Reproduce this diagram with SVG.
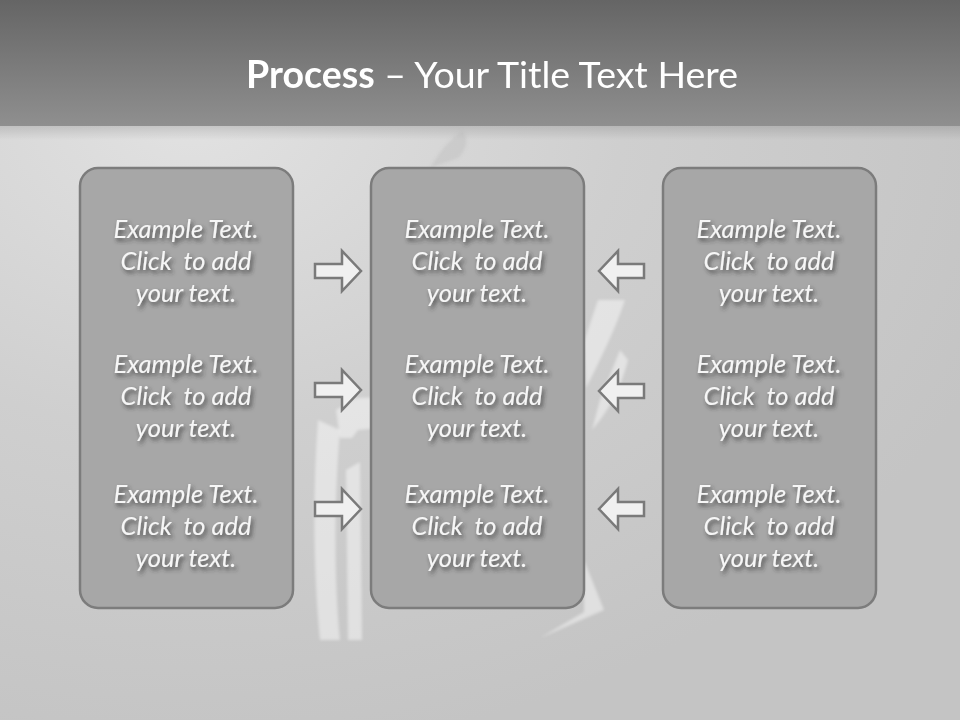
<svg xmlns="http://www.w3.org/2000/svg" width="960" height="720" viewBox="0 0 960 720">
<defs>
<linearGradient id="top" x1="0" y1="0" x2="0" y2="1">
<stop offset="0" stop-color="#656565"/>
<stop offset="1" stop-color="#8f8f8f"/>
</linearGradient>
<radialGradient id="body" cx="0.2" cy="0.15" r="0.9">
<stop offset="0" stop-color="#e2e2e2"/>
<stop offset="0.5" stop-color="#cfcfcf"/>
<stop offset="1" stop-color="#c4c4c4"/>
</radialGradient>
<linearGradient id="band" x1="0" y1="0" x2="0" y2="1">
<stop offset="0" stop-color="#000" stop-opacity="0.12"/>
<stop offset="1" stop-color="#000" stop-opacity="0"/>
</linearGradient>
<filter id="ts" x="-20%" y="-40%" width="140%" height="180%">
<feDropShadow dx="2" dy="3" stdDeviation="2" flood-color="#333" flood-opacity="0.8"/>
</filter>
<filter id="soft"><feGaussianBlur stdDeviation="1.5"/></filter>
</defs>
<style>
.box{fill:#a7a7a7;stroke:#7c7c7c;stroke-width:2.5}
.t{font-family:Lato,"Liberation Sans",sans-serif;font-style:italic;font-size:25.5px;fill:#f6f6f6;text-anchor:middle;white-space:pre}
.arr{fill:#f0f0f0;stroke:#7a7a7a;stroke-width:2.5;stroke-linejoin:miter}
.deco{fill:#ffffff;opacity:0.45}
</style>
<rect x="0" y="0" width="960" height="720" fill="url(#body)"/>
<rect x="0" y="0" width="960" height="126" fill="url(#top)"/>
<rect x="0" y="126" width="960" height="14" fill="url(#band)"/>
<g id="decor" filter="url(#soft)">
<path class="deco" d="M336 410 L356 398 L420 396 L418 424 L358 430 L352 438 L340 438 Z"/>
<path class="deco" d="M318 420 C312 500 314 580 320 640 L340 640 C334 580 334 500 340 430 Z"/>
<path class="deco" d="M346 470 L360 462 L362 640 L348 640 Z"/>
<path class="deco" d="M598 300 L625 300 C615 330 600 360 586 388 L584 342 Z"/>
<path class="deco" d="M620 350 L628 360 C618 400 600 420 592 430 L600 400 Z"/>
<path class="deco" d="M584 560 L604 610 L540 638 L584 612 Z"/>
<path d="M462 130 C470 140 466 150 458 158 L430 168 C440 150 450 140 462 130 Z" fill="#b8b8b8" opacity="0.35"/>
</g>
<g id="title">
<text x="492" y="88" font-family="Lato,'Liberation Sans',sans-serif" font-size="37.5" fill="#ffffff" text-anchor="middle"><tspan font-weight="bold">Process</tspan> – Your Title Text Here</text>
</g>
<g id="node-left">
<rect class="box" x="80" y="168" width="213" height="440" rx="18"/>
<g filter="url(#ts)">
<text class="t" x="186" y="238">Example Text.</text>
<text class="t" x="186" y="270">Click  to add</text>
<text class="t" x="186" y="302">your text.</text>
<text class="t" x="186" y="373">Example Text.</text>
<text class="t" x="186" y="405">Click  to add</text>
<text class="t" x="186" y="437">your text.</text>
<text class="t" x="186" y="503">Example Text.</text>
<text class="t" x="186" y="535">Click  to add</text>
<text class="t" x="186" y="567">your text.</text>
</g>
</g>
<g id="node-center">
<rect class="box" x="371" y="168" width="213" height="440" rx="18"/>
<g filter="url(#ts)">
<text class="t" x="477" y="238">Example Text.</text>
<text class="t" x="477" y="270">Click  to add</text>
<text class="t" x="477" y="302">your text.</text>
<text class="t" x="477" y="373">Example Text.</text>
<text class="t" x="477" y="405">Click  to add</text>
<text class="t" x="477" y="437">your text.</text>
<text class="t" x="477" y="503">Example Text.</text>
<text class="t" x="477" y="535">Click  to add</text>
<text class="t" x="477" y="567">your text.</text>
</g>
</g>
<g id="node-right">
<rect class="box" x="663" y="168" width="213" height="440" rx="18"/>
<g filter="url(#ts)">
<text class="t" x="769" y="238">Example Text.</text>
<text class="t" x="769" y="270">Click  to add</text>
<text class="t" x="769" y="302">your text.</text>
<text class="t" x="769" y="373">Example Text.</text>
<text class="t" x="769" y="405">Click  to add</text>
<text class="t" x="769" y="437">your text.</text>
<text class="t" x="769" y="503">Example Text.</text>
<text class="t" x="769" y="535">Click  to add</text>
<text class="t" x="769" y="567">your text.</text>
</g>
</g>
<g id="connectors">
<path class="arr" d="M315 264 L342 264 L342 251 L361 271 L342 291 L342 278 L315 278 Z"/>
<path class="arr" d="M315 383 L342 383 L342 370 L361 390 L342 410 L342 397 L315 397 Z"/>
<path class="arr" d="M315 502 L342 502 L342 489 L361 509 L342 529 L342 516 L315 516 Z"/>
<path class="arr" d="M644 264 L618 264 L618 251 L599 271 L618 291 L618 278 L644 278 Z"/>
<path class="arr" d="M644 384 L618 384 L618 371 L599 391 L618 411 L618 398 L644 398 Z"/>
<path class="arr" d="M644 502 L618 502 L618 489 L599 509 L618 529 L618 516 L644 516 Z"/>
</g>
</svg>
